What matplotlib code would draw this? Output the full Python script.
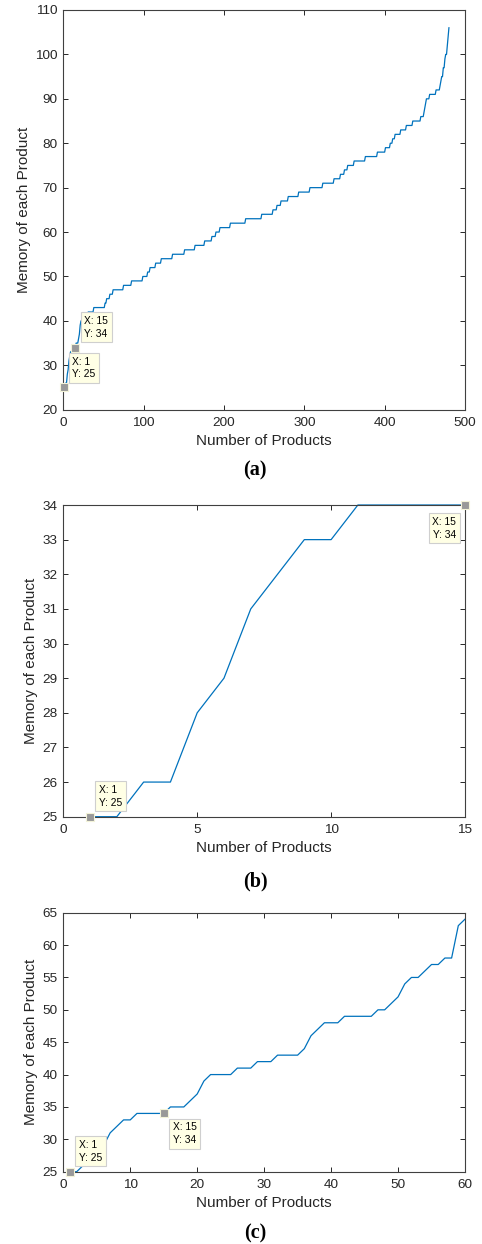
import numpy as np
import matplotlib
matplotlib.use("Agg")
import matplotlib.pyplot as plt

plt.rcParams['font.family'] = ['Liberation Sans', 'DejaVu Sans']

# panel (a): sorted memory per product, stored as step levels and the index where each level starts
a_levels = [25, 26, 28, 29, 31, 32, 33, 34, 35, 36, 37, 39, 40, 41, 42, 43, 44, 45, 46, 47,
            48, 49, 50, 51, 52, 53, 54, 55, 56, 57, 58, 59, 60, 61, 62, 63, 64, 65, 66, 67,
            68, 69, 70, 71, 72, 73, 74, 75, 76, 77, 78, 79, 80, 81, 82, 83, 84, 85, 86, 87,
            88, 89, 90, 91, 92, 93, 94, 95, 97, 99, 100, 102, 104, 106]
a_starts = [1, 3, 5, 6, 7, 8, 9, 11, 16, 19, 20, 21, 22, 26, 31, 38, 52, 54, 58, 62,
            75, 85, 99, 105, 108, 115, 122, 136, 151, 164, 176, 185, 190, 195, 208, 227, 247, 261, 266, 271,
            280, 293, 307, 323, 337, 345, 350, 354, 362, 376, 391, 401, 407, 410, 413, 420, 427, 435, 445, 449,
            450, 451, 452, 456, 464, 469, 470, 471, 473, 475, 476, 478, 479, 480]
a_last = 480

# panel (c): first 60 products (panel (b) shows the first 15 of them)
c_mem = [25, 25, 26, 26, 28, 29, 31, 32, 33, 33,
         34, 34, 34, 34, 34, 35, 35, 35, 36, 37,
         39, 40, 40, 40, 40, 41, 41, 41, 42, 42,
         42, 43, 43, 43, 43, 44, 46, 47, 48, 48,
         48, 49, 49, 49, 49, 49, 50, 50, 51, 52,
         54, 55, 55, 56, 57, 57, 58, 58, 63, 64]

counts = np.diff(a_starts + [a_last + 1])
a_mem = np.repeat(a_levels, counts)
a_x = np.arange(1, len(a_mem) + 1)
c_x = np.arange(1, len(c_mem) + 1)

W, H = 482, 1244
fig = plt.figure(figsize=(W / 100, H / 100), dpi=100)

def box(l, t, r, b):
    return [l / W, 1 - b / H, (r - l) / W, (b - t) / H]

ax_a = fig.add_axes(box(63.3, 10, 465, 409.7))
ax_b = fig.add_axes(box(63.3, 505, 465, 816.7))
ax_c = fig.add_axes(box(63.3, 912.7, 465, 1171.7))

blue = '#0072BD'
txt = '#262626'

def style(ax, xt, yt):
    ax.set_xticks(xt)
    ax.set_yticks(yt)
    ax.set_xlim(xt[0], xt[-1])
    ax.set_ylim(yt[0], yt[-1])
    ax.tick_params(direction='in', length=3.5, width=0.7, top=True, right=True,
                   labelsize=9.7, colors=txt, pad=4)
    ax.tick_params(axis='x', pad=5.5)
    for s in ax.spines.values():
        s.set_color('#404040')
        s.set_linewidth(0.8)
    ax.set_xlabel('Number of Products', fontsize=11, color=txt, labelpad=3)
    ax.set_ylabel('Memory of each Product', fontsize=11, color=txt, labelpad=3)

def datatip(ax, x, y, dx, dy, ha, va):
    ax.plot([x], [y], 's', ms=6, mfc='#999999', mec='#F3F3D8', mew=0.8,
            clip_on=False, zorder=5)
    ax.annotate('X: %d\nY: %d' % (x, y), xy=(x, y), xytext=(dx, dy),
                textcoords='offset pixels', ha=ha, va=va, fontsize=7.4,
                color='black', linespacing=1.35, zorder=6,
                bbox=dict(boxstyle='square,pad=0.35', fc='#FFFFE5', ec='#CFCFCF', lw=0.8))

ax_a.plot(a_x, a_mem, color=blue, lw=0.9)
style(ax_a, [0, 100, 200, 300, 400, 500], list(range(20, 111, 10)))
datatip(ax_a, 1, 25, 8, 8, 'left', 'bottom')
datatip(ax_a, 15, 34, 9, 9, 'left', 'bottom')

ax_b.plot(c_x[:15], c_mem[:15], color=blue, lw=0.9, clip_on=False)
style(ax_b, [0, 5, 10, 15], list(range(25, 35)))
datatip(ax_b, 1, 25, 9, 9, 'left', 'bottom')
datatip(ax_b, 15, 34, -9, -12, 'right', 'top')

ax_c.plot(c_x, c_mem, color=blue, lw=0.9, clip_on=False)
style(ax_c, [0, 10, 20, 30, 40, 50, 60], list(range(25, 66, 5)))
datatip(ax_c, 1, 25, 9, 9, 'left', 'bottom')
datatip(ax_c, 15, 34, 9, -9, 'left', 'top')

for lab, yp in [('(a)', 470), ('(b)', 881.5), ('(c)', 1233.5)]:
    fig.text(255 / W, 1 - yp / H, lab, ha='center', va='center', fontsize=14.5,
             fontweight='bold', family=['Liberation Serif', 'DejaVu Serif'])

fig.savefig('out.png', dpi=100)
